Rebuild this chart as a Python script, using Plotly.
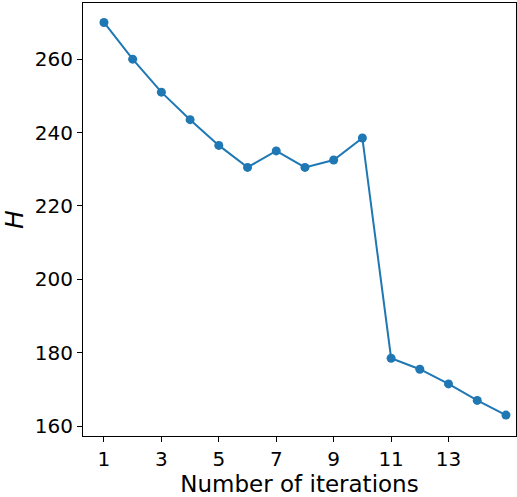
import plotly.graph_objects as go

iterations = list(range(1, 16))
h_values = [270, 260, 251, 243.5, 236.5, 230.5, 235, 230.5, 232.5, 238.5,
            178.5, 175.5, 171.5, 167, 163]
x_ticks = [1, 3, 5, 7, 9, 11, 13]
y_ticks = [160, 180, 200, 220, 240, 260]

fig = go.Figure(go.Scatter(
    x=iterations, y=h_values, mode="lines+markers",
    line=dict(color="#1f77b4", width=2),
    marker=dict(color="#1f77b4", size=9),
))

axis_style = dict(showgrid=False, zeroline=False, showline=True, mirror=True,
                  linecolor="black", linewidth=1, ticks="outside",
                  ticklen=5, tickcolor="black",
                  tickfont=dict(size=20, color="black"))

fig.update_xaxes(range=[0.27, 15.35], tickvals=x_ticks,
                 title=dict(text="Number of iterations", font=dict(size=23, color="black"), standoff=6),
                 **axis_style)
fig.update_yaxes(range=[157.3, 275.3], tickvals=y_ticks,
                 title=dict(text="<i>H</i>", font=dict(size=25, color="black"), standoff=4),
                 **axis_style)

fig.update_layout(
    width=517, height=497,
    margin=dict(l=83, r=1, t=3, b=61),
    plot_bgcolor="white", paper_bgcolor="white",
    font=dict(family="DejaVu Sans"),
    showlegend=False,
)

# drop the page's default body margin so the figure sits at the top-left corner
fig.write_html("out.html", config={"displayModeBar": False},
               post_script="document.body.style.margin='0';document.body.style.overflow='hidden';")
